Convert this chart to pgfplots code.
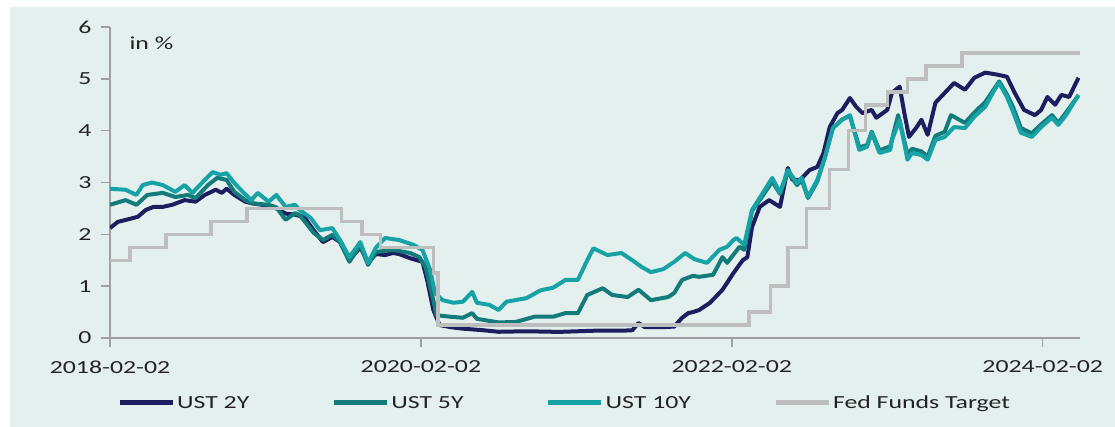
\documentclass[border=0pt]{standalone}
\usepackage{fontspec}
\setmainfont[FakeStretch=1.4]{Carlito}
\usepackage{pgfplots}
\pgfplotsset{compat=1.18}
\definecolor{bgc}{RGB}{228,240,238}
\definecolor{axisgray}{RGB}{160,160,160}
\definecolor{txtc}{RGB}{35,35,35}
\definecolor{c2y}{RGB}{28,30,95}
\definecolor{c5y}{RGB}{19,124,122}
\definecolor{c10y}{RGB}{23,162,166}
\definecolor{cfed}{RGB}{190,190,190}
\newcommand{\lblfont}{\fontsize{18.5}{21}\selectfont}
\begin{document}
\begin{tikzpicture}
\useasboundingbox (-110bp,-89bp) rectangle (1005bp,338bp);
\fill[white] (-110bp,-89bp) rectangle (1005bp,338bp);
\fill[bgc] (-100bp,-89bp) rectangle (1005bp,331bp);
\begin{axis}[
  at={(0,0)}, anchor=south west,
  scale only axis, width=970bp, height=311bp,
  xmin=2018.09, xmax=2024.33, ymin=0, ymax=6,
  axis x line*=bottom, axis y line*=left,
  axis line style={draw=axisgray, line width=1.5bp},
  xtick={2018.09,2020.09,2022.09,2024.09},
  xticklabels={2018-02-02,2020-02-02,2022-02-02,2024-02-02},
  ytick={0,1,2,3,4,5,6},
  tick style={draw=axisgray, line width=1.5bp},
  tick align=outside, major tick length=9bp,
  /pgf/number format/assume math mode=true,
  tick label style={font=\lblfont, text=txtc},
  xticklabel style={yshift=-10bp},
  yticklabel style={xshift=-6bp},
  legend columns=4,
  legend cell align=left,
  legend style={at={(0.004,-0.209)}, anchor=west, draw=none, fill=none,
    font=\lblfont, text=txtc, nodes={inner xsep=2bp},
    /tikz/every even column/.append style={column sep=80bp}},
  legend image code/.code={\draw[#1, line width=5bp] (0bp,0bp) -- (53bp,0bp);},
]
% UST 2Y
\addplot[c2y, line width=4bp, line join=round] coordinates {
(2018.09,2.12) (2018.14,2.24) (2018.22,2.30) (2018.27,2.34) (2018.32,2.47)
(2018.37,2.53) (2018.43,2.53) (2018.49,2.57) (2018.57,2.66) (2018.64,2.63)
(2018.70,2.76) (2018.77,2.86) (2018.81,2.80) (2018.84,2.88) (2018.89,2.76)
(2018.96,2.63) (2019.00,2.60) (2019.11,2.55) (2019.16,2.50) (2019.22,2.40)
(2019.28,2.38) (2019.34,2.33) (2019.40,2.08) (2019.46,1.85) (2019.52,1.95)
(2019.57,1.85) (2019.63,1.50) (2019.70,1.75) (2019.75,1.45) (2019.80,1.62)
(2019.86,1.60) (2019.91,1.64) (2019.95,1.62) (2020.02,1.54) (2020.10,1.47)
(2020.13,1.12) (2020.17,0.54) (2020.21,0.25) (2020.28,0.21) (2020.36,0.18)
(2020.49,0.15) (2020.59,0.12) (2020.77,0.13) (2020.94,0.12) (2021.00,0.12)
(2021.20,0.14) (2021.38,0.14) (2021.45,0.15) (2021.49,0.29) (2021.53,0.21)
(2021.65,0.21) (2021.72,0.22) (2021.77,0.39) (2021.81,0.48) (2021.84,0.50)
(2021.88,0.54) (2021.95,0.68) (2022.03,0.93) (2022.10,1.25) (2022.16,1.50)
(2022.19,1.56) (2022.22,2.14) (2022.27,2.53) (2022.33,2.66) (2022.40,2.53)
(2022.45,3.28) (2022.48,3.05) (2022.53,3.05) (2022.59,3.24) (2022.64,3.30)
(2022.68,3.57) (2022.72,4.07) (2022.77,4.34) (2022.80,4.40) (2022.85,4.63)
(2022.89,4.46) (2022.93,4.34) (2022.99,4.40) (2023.02,4.25) (2023.09,4.40)
(2023.12,4.73) (2023.17,4.85) (2023.20,4.34) (2023.23,3.88) (2023.28,4.07)
(2023.31,4.21) (2023.35,3.92) (2023.40,4.54) (2023.46,4.73) (2023.52,4.92)
(2023.59,4.79) (2023.65,5.02) (2023.72,5.12) (2023.80,5.08) (2023.86,5.04)
(2023.91,4.73) (2023.97,4.40) (2024.04,4.30) (2024.08,4.40) (2024.12,4.65)
(2024.17,4.50) (2024.21,4.69) (2024.26,4.65) (2024.32,5.02)
};
\addlegendentry{UST 2Y}
% UST 5Y
\addplot[c5y, line width=4bp, line join=round] coordinates {
(2018.09,2.57) (2018.19,2.66) (2018.26,2.57) (2018.33,2.76) (2018.43,2.80)
(2018.51,2.72) (2018.59,2.76) (2018.64,2.70) (2018.72,2.95) (2018.78,3.09)
(2018.84,3.05) (2018.89,2.82) (2018.96,2.66) (2019.00,2.60) (2019.11,2.57)
(2019.16,2.52) (2019.22,2.28) (2019.28,2.41) (2019.31,2.37) (2019.40,2.03)
(2019.46,1.89) (2019.52,1.99) (2019.57,1.85) (2019.63,1.47) (2019.70,1.80)
(2019.75,1.41) (2019.80,1.66) (2019.91,1.70) (2020.02,1.64) (2020.08,1.56)
(2020.12,1.37) (2020.17,0.73) (2020.19,0.44) (2020.28,0.41) (2020.36,0.39)
(2020.42,0.48) (2020.45,0.37) (2020.59,0.30) (2020.70,0.31) (2020.82,0.41)
(2020.94,0.41) (2021.02,0.48) (2021.10,0.48) (2021.16,0.83) (2021.26,0.96)
(2021.32,0.83) (2021.42,0.79) (2021.49,0.93) (2021.57,0.73) (2021.68,0.79)
(2021.72,0.87) (2021.77,1.12) (2021.84,1.20) (2021.88,1.18) (2021.97,1.22)
(2022.03,1.56) (2022.06,1.45) (2022.14,1.76) (2022.17,1.70) (2022.22,2.45)
(2022.29,2.75) (2022.35,3.02) (2022.40,2.78) (2022.45,3.20) (2022.51,2.95)
(2022.54,3.05) (2022.58,2.70) (2022.64,3.02) (2022.69,3.50) (2022.74,4.05)
(2022.80,4.22) (2022.85,4.28) (2022.88,3.98) (2022.91,3.68) (2022.96,3.72)
(2022.99,3.98) (2023.04,3.62) (2023.11,3.70) (2023.16,4.30) (2023.22,3.55)
(2023.25,3.65) (2023.31,3.60) (2023.35,3.50) (2023.40,3.90) (2023.46,3.98)
(2023.50,4.30) (2023.59,4.15) (2023.65,4.35) (2023.72,4.55) (2023.81,4.95)
(2023.86,4.70) (2023.90,4.45) (2023.95,4.05) (2024.02,3.95) (2024.08,4.12)
(2024.15,4.30) (2024.19,4.15) (2024.24,4.35) (2024.32,4.68)
};
\addlegendentry{UST 5Y}
% UST 10Y
\addplot[c10y, line width=4bp, line join=round] coordinates {
(2018.09,2.88) (2018.19,2.86) (2018.26,2.76) (2018.30,2.95) (2018.36,3.00)
(2018.43,2.95) (2018.51,2.82) (2018.57,2.95) (2018.62,2.80) (2018.70,3.05)
(2018.75,3.20) (2018.80,3.15) (2018.84,3.18) (2018.89,2.99) (2018.95,2.80)
(2019.00,2.66) (2019.04,2.80) (2019.11,2.63) (2019.16,2.76) (2019.22,2.53)
(2019.28,2.57) (2019.31,2.47) (2019.38,2.32) (2019.44,2.08) (2019.52,2.12)
(2019.57,1.89) (2019.63,1.56) (2019.70,1.85) (2019.75,1.45) (2019.80,1.74)
(2019.86,1.93) (2019.95,1.89) (2020.04,1.80) (2020.10,1.70) (2020.15,1.31)
(2020.18,0.87) (2020.23,0.73) (2020.30,0.68) (2020.36,0.70) (2020.42,0.89)
(2020.45,0.68) (2020.53,0.64) (2020.59,0.54) (2020.64,0.70) (2020.77,0.77)
(2020.86,0.92) (2020.94,0.97) (2021.02,1.12) (2021.10,1.12) (2021.16,1.50)
(2021.20,1.73) (2021.29,1.60) (2021.38,1.64) (2021.45,1.50) (2021.51,1.37)
(2021.57,1.27) (2021.65,1.33) (2021.72,1.47) (2021.79,1.64) (2021.85,1.52)
(2021.93,1.45) (2022.01,1.70) (2022.06,1.76) (2022.10,1.89) (2022.12,1.93)
(2022.17,1.80) (2022.22,2.47) (2022.29,2.80) (2022.35,3.09) (2022.40,2.80)
(2022.45,3.24) (2022.51,2.99) (2022.54,3.09) (2022.58,2.72) (2022.64,3.05)
(2022.69,3.49) (2022.74,4.05) (2022.80,4.21) (2022.85,4.30) (2022.88,3.96)
(2022.91,3.63) (2022.96,3.69) (2022.99,3.96) (2023.04,3.57) (2023.11,3.63)
(2023.12,3.82) (2023.17,4.21) (2023.22,3.44) (2023.25,3.57) (2023.31,3.53)
(2023.35,3.44) (2023.40,3.82) (2023.46,3.88) (2023.52,4.07) (2023.59,4.05)
(2023.65,4.27) (2023.72,4.46) (2023.78,4.79) (2023.81,4.92) (2023.86,4.65)
(2023.90,4.36) (2023.95,3.96) (2024.02,3.88) (2024.08,4.07) (2024.15,4.25)
(2024.19,4.11) (2024.24,4.30) (2024.32,4.69)
};
\addlegendentry{UST 10Y}
% Fed Funds Target
\addplot[cfed, line width=3.5bp, const plot] coordinates {
(2018.09,1.50) (2018.22,1.75) (2018.45,2.00) (2018.74,2.25) (2018.97,2.50)
(2019.58,2.25) (2019.71,2.00) (2019.83,1.75) (2020.17,1.25) (2020.20,0.25)
(2022.20,0.50) (2022.34,1.00) (2022.45,1.75) (2022.57,2.50) (2022.72,3.25)
(2022.84,4.00) (2022.95,4.50) (2023.09,4.75) (2023.22,5.00) (2023.34,5.25)
(2023.57,5.50) (2024.33,5.50)
};
\addlegendentry{Fed Funds Target}
\node[anchor=west, font=\lblfont, text=txtc] at (rel axis cs:0.0165,0.949) {in \%};
\end{axis}
\end{tikzpicture}
\end{document}
